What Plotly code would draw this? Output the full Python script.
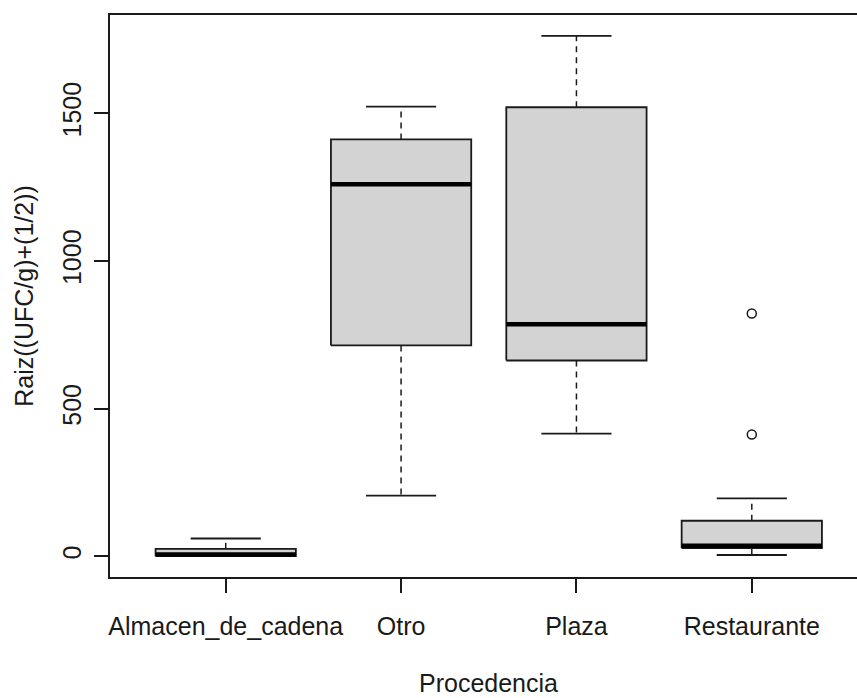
import plotly.graph_objects as go

categories = ["Almacen_de_cadena", "Otro", "Plaza", "Restaurante"]
lower_whisker = [0, 205, 415, 4]
q1 = [0, 714, 663, 27]
median = [6, 1260, 786, 35]
q3 = [25, 1412, 1521, 120]
upper_whisker = [60, 1523, 1763, 196]
outlier_cat = ["Restaurante", "Restaurante"]
outlier_val = [822, 412]
y_ticks = [0, 500, 1000, 1500]

BOX_HALF = 0.4
CAP_HALF = 0.2
INK = "#1a1a1a"
FONT = "Liberation Sans, Arial, sans-serif"
FS = 25

pos = {c: i + 1 for i, c in enumerate(categories)}

fig = go.Figure()
for i, name in enumerate(categories):
    p = pos[name]
    # whiskers (dashed)
    fig.add_trace(go.Scatter(x=[p, p], y=[q3[i], upper_whisker[i]], mode="lines",
                             line=dict(color=INK, width=1.5, dash="6px,5px"),
                             showlegend=False, hoverinfo="skip"))
    fig.add_trace(go.Scatter(x=[p, p], y=[q1[i], lower_whisker[i]], mode="lines",
                             line=dict(color=INK, width=1.5, dash="6px,5px"),
                             showlegend=False, hoverinfo="skip"))
    # caps
    for v in (upper_whisker[i], lower_whisker[i]):
        fig.add_trace(go.Scatter(x=[p - CAP_HALF, p + CAP_HALF], y=[v, v], mode="lines",
                                 line=dict(color=INK, width=1.8),
                                 showlegend=False, hoverinfo="skip"))
    # box
    fig.add_trace(go.Scatter(x=[p - BOX_HALF, p + BOX_HALF, p + BOX_HALF, p - BOX_HALF, p - BOX_HALF],
                             y=[q1[i], q1[i], q3[i], q3[i], q1[i]], mode="lines",
                             fill="toself", fillcolor="#d3d3d3",
                             line=dict(color=INK, width=1.8),
                             name=name, showlegend=False))
    # median
    fig.add_trace(go.Scatter(x=[p - BOX_HALF, p + BOX_HALF], y=[median[i], median[i]], mode="lines",
                             line=dict(color="#000000", width=4.5),
                             showlegend=False, hoverinfo="skip"))

fig.add_trace(go.Scatter(x=[pos[c] for c in outlier_cat], y=outlier_val, mode="markers",
                         marker=dict(symbol="circle-open", size=9, color=INK, line=dict(width=1.5)),
                         showlegend=False))

ymin = min(lower_whisker)
ymax = max(upper_whisker + outlier_val)
ext = 0.04 * (ymax - ymin)
xlo = 0.5 - 0.04 * len(categories)
xhi = len(categories) + 0.5 + 0.04 * len(categories)

fig.update_layout(
    width=857, height=698,
    margin=dict(l=110, r=0, t=15, b=121),
    paper_bgcolor="white", plot_bgcolor="white",
    font=dict(family=FONT, size=FS, color=INK),
    xaxis=dict(range=[xlo, 4.6], tickmode="array", tickvals=list(range(1, len(categories) + 1)),
               ticktext=categories, showgrid=False, zeroline=False,
               showline=True, mirror=True, linecolor=INK, linewidth=1.5,
               ticks="outside", ticklen=14, tickwidth=1.5, tickcolor=INK,
               tickfont=dict(size=FS), ticklabelstandoff=12),
    yaxis=dict(range=[ymin - ext, ymax + ext], tickmode="array", tickvals=y_ticks,
               showgrid=False, zeroline=False,
               showline=True, linecolor=INK, linewidth=1.5,
               ticks="outside", ticklen=14, tickwidth=1.5, tickcolor=INK,
               tickangle=-90, ticklabelstandoff=3, tickfont=dict(size=FS),
               title=dict(text="Raiz((UFC/g)+(1/2))", standoff=18, font=dict(size=FS))),
    annotations=[dict(text="Procedencia", xref="x", x=(xlo + xhi) / 2, yref="paper", y=0,
                      xanchor="center", yanchor="bottom", yshift=-122, showarrow=False,
                      font=dict(size=FS))],
)

fig.write_html("out.html")
